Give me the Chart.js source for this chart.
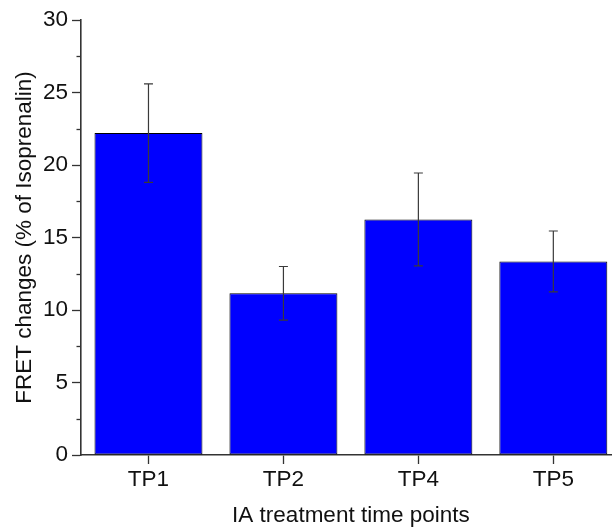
<!DOCTYPE html>
<html>
<head>
<meta charset="utf-8">
<script src="https://cdn.jsdelivr.net/npm/chart.js@4"></script>
<style>
  html, body { margin: 0; padding: 0; background: #fff; overflow: hidden; width: 612px; height: 532px; }
  #wrap { position: absolute; left: 0; top: 0; width: 640px; height: 532px; }
</style>
</head>
<body>
<div id="wrap"><canvas id="c" width="640" height="532"></canvas></div>
<script>
const categories = ['TP1', 'TP2', 'TP4', 'TP5'];
const meanValues = [22.2, 11.15, 16.25, 13.35];
const errorValues = [3.4, 1.85, 3.2, 2.1];
const yTickStep = 5;

const FONT = "'Liberation Sans', Arial, sans-serif";
const AXIS = '#333333';

const errorBarPlugin = {
  id: 'errorBars',
  afterDatasetsDraw(chart) {
    const ctx = chart.ctx;
    const meta = chart.getDatasetMeta(0);
    const y = chart.scales.y;
    ctx.save();
    ctx.strokeStyle = '#3a3a3a';
    ctx.lineWidth = 1.2;
    meta.data.forEach((bar, i) => {
      const x = bar.x;
      const top = y.getPixelForValue(meanValues[i] + errorValues[i]);
      const bot = y.getPixelForValue(meanValues[i] - errorValues[i]);
      ctx.beginPath();
      ctx.moveTo(x, top); ctx.lineTo(x, bot);
      ctx.moveTo(x - 4.5, top); ctx.lineTo(x + 4.5, top);
      ctx.moveTo(x - 4.5, bot); ctx.lineTo(x + 4.5, bot);
      ctx.stroke();
    });
    ctx.restore();
  }
};

const minorTickPlugin = {
  id: 'minorTicks',
  afterDraw(chart) {
    const ctx = chart.ctx;
    const y = chart.scales.y;
    const left = chart.chartArea.left;
    ctx.save();
    ctx.strokeStyle = AXIS;
    ctx.lineWidth = 1.3;
    const ticks = y.ticks.map(t => t.value);
    for (let i = 0; i < ticks.length - 1; i++) {
      const mid = (ticks[i] + ticks[i + 1]) / 2;
      const py = Math.round(y.getPixelForValue(mid)) + 0.5;
      ctx.beginPath();
      ctx.moveTo(left - 4.5, py); ctx.lineTo(left, py);
      ctx.stroke();
    }
    ctx.restore();
  }
};

new Chart(document.getElementById('c'), {
  type: 'bar',
  data: {
    labels: categories,
    datasets: [{
      data: meanValues,
      backgroundColor: '#0000FF',
      borderColor: '#000000',
      borderWidth: 1,
      borderSkipped: false,
      barPercentage: 0.8,
      categoryPercentage: 1.0
    }]
  },
  options: {
    responsive: false,
    animation: false,
    devicePixelRatio: 1,
    layout: { padding: { top: 20, right: 19.2, left: 0, bottom: 0 } },
    plugins: { legend: { display: false }, tooltip: { enabled: false } },
    scales: {
      x: {
        offset: true,
        grid: { display: true, drawOnChartArea: false, drawTicks: true, tickLength: 9, tickColor: AXIS, tickWidth: 1.3, offset: false },
        border: { display: true, color: AXIS, width: 1.6 },
        ticks: { color: '#111', font: { family: FONT, size: 22.5 }, padding: 2, maxRotation: 0 },
        title: { display: true, text: 'IA treatment time points', color: '#111', font: { family: FONT, size: 22.5 }, padding: { top: 0, bottom: 3 } },
        afterFit(s) { s.height = 77; }
      },
      y: {
        min: 0, max: 30,
        ticks: { stepSize: yTickStep, color: '#111', font: { family: FONT, size: 22.5 }, padding: 4 },
        grid: { display: true, drawOnChartArea: false, drawTicks: true, tickLength: 9, tickColor: AXIS, tickWidth: 1.3 },
        border: { display: true, color: AXIS, width: 1.6 },
        title: { display: true, text: 'FRET changes (% of Isoprenalin)', color: '#111', font: { family: FONT, size: 22.5 }, padding: { top: 11, bottom: 0 } },
        afterFit(s) { s.width = 81; }
      }
    }
  },
  plugins: [errorBarPlugin, minorTickPlugin]
});
</script>
</body>
</html>
